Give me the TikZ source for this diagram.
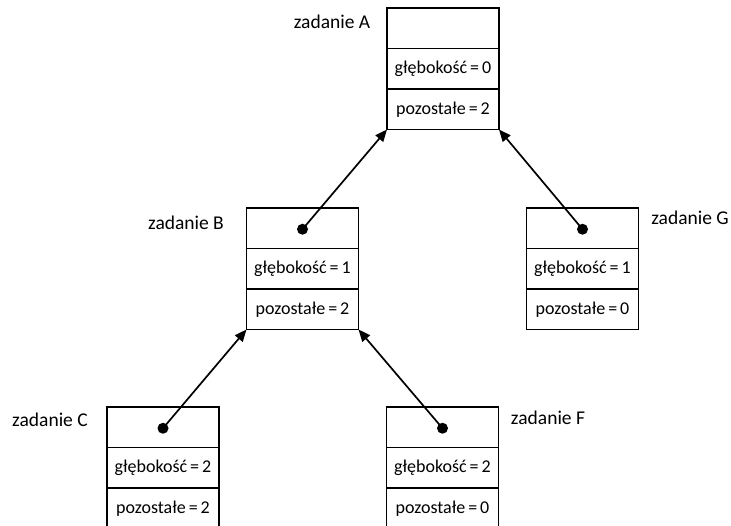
\documentclass[tikz,border=0pt]{standalone}
\usepackage{fontspec}
\setmainfont{Carlito}
\usetikzlibrary{arrows.meta}
\begin{document}
\begin{tikzpicture}[x=1pt,y=-1pt,
  cell/.style={draw,line width=1.6pt,minimum width=112pt,minimum height=40.5pt,
    inner sep=0pt,outer sep=0pt,font=\fontsize{18}{22}\selectfont},
  tag/.style={font=\fontsize{19.5}{22}\selectfont,inner sep=0pt},
  dot/.style={circle,fill=black,minimum size=11pt,inner sep=0pt},
  link/.style={line width=1.7pt,-{Triangle[length=12pt,width=10pt]}}]
\useasboundingbox (0,0) rectangle (731,526);
% one task record: header cell, depth cell, remaining cell
\newcommand{\taskbox}[5]{%
  \node[cell] (#1h) at (#2,#3) {};
  \node[cell,anchor=north] (#1d) at (#1h.south) {głębokość\hspace{3pt}=\hspace{3pt}#4};
  \node[cell,anchor=north] (#1r) at (#1d.south) {pozostałe\hspace{3pt}=\hspace{3pt}#5};
}
\taskbox{A}{443}{28.25}{0}{2}
\taskbox{B}{302.5}{228.25}{1}{2}
\taskbox{G}{582.5}{228.25}{1}{0}
\taskbox{C}{163}{427.25}{2}{2}
\taskbox{F}{442.5}{427.25}{2}{0}
% pointer dots in the header cells
\node[dot] (Bp) at ([yshift=-1pt]Bh.center) {};
\node[dot] (Gp) at ([yshift=-1pt]Gh.center) {};
\node[dot] (Cp) at ([yshift=-1pt]Ch.center) {};
\node[dot] (Fp) at ([yshift=-1pt]Fh.center) {};
% names of the tasks
\node[tag] (lA) at (332,22) {zadanie A};
\node[tag] (lB) at (186,223) {zadanie B};
\node[tag] (lG) at (690,218) {zadanie G};
\node[tag] (lC) at (50,420) {zadanie C};
\node[tag] (lF) at (548,418) {zadanie F};
% parent links
\draw[link] (Bp.center) -- (Ar.south west);
\draw[link] (Gp.center) -- (Ar.south east);
\draw[link] (Cp.center) -- (Br.south west);
\draw[link] (Fp.center) -- (Br.south east);
\end{tikzpicture}
\end{document}
